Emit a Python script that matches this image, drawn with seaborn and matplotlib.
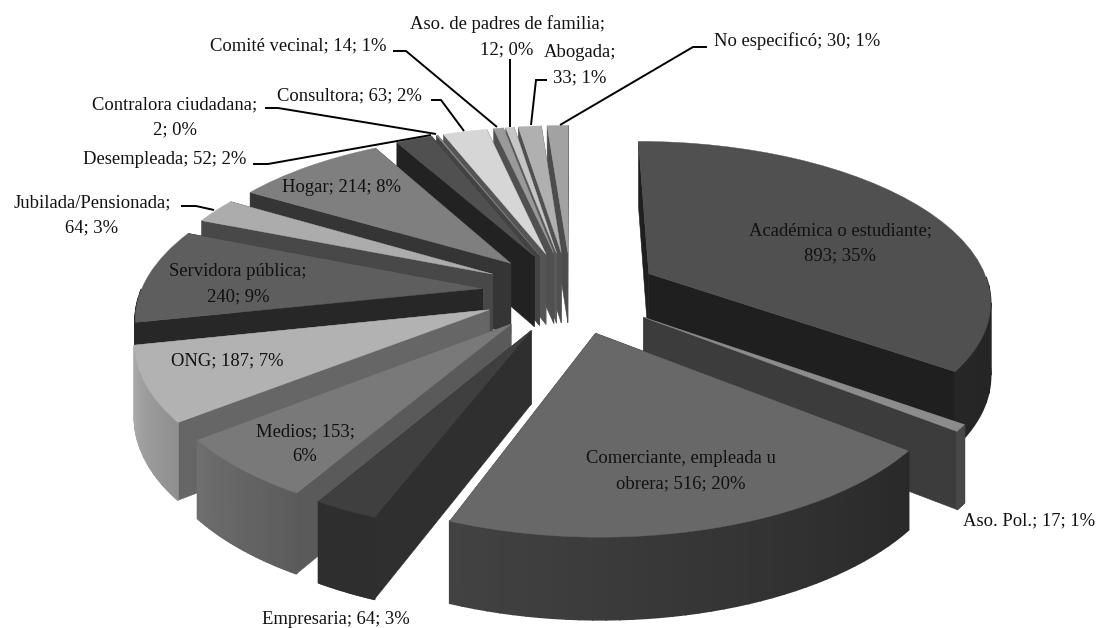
import numpy as np
import matplotlib
matplotlib.use("Agg")
import matplotlib.pyplot as plt
import seaborn as sns
from matplotlib.colors import to_rgb
from matplotlib.path import Path
from matplotlib.transforms import Transform

sns.set_theme(style="white")
plt.rcParams['font.family'] = ['Liberation Serif', 'DejaVu Serif']

categories = ["Académica o estudiante", "Aso. Pol.", "Comerciante, empleada u obrera", "Empresaria",
              "Medios", "ONG", "Servidora pública", "Jubilada/Pensionada", "Hogar", "Desempleada",
              "Contralora ciudadana", "Consultora", "Comité vecinal", "Aso. de padres de familia",
              "Abogada", "No especificó"]
values = [893, 17, 516, 64, 153, 187, 240, 64, 214, 52, 2, 63, 14, 12, 33, 30]
percents = [35, 1, 20, 3, 6, 7, 9, 3, 8, 2, 0, 2, 1, 0, 1, 1]
top_colors = ["#505050", "#8c8c8c", "#686868", "#3f3f3f", "#797979", "#b2b2b2", "#5e5e5e", "#acacac",
              "#7f7f7f", "#505050", "#8a8a8a", "#d6d6d6", "#9a9a9a", "#c6c6c6", "#b0b0b0", "#a2a2a2"]
wall_colors = ["#1f1f1f", "#3c3c3c", "#2c2c2c", "#2f2f2f", "#5a5a5a", "#666666", "#272727", "#484848",
               "#353535", "#222222", "#444444", "#555555", "#505050", "#5a5a5a", "#505050", "#4c4c4c"]
rim_start = ["#1e1e1e", "#474747", "#292929", "#2e2e2e", "#5c5c5c", "#8f8f8f", "#272727", "#484848",
             "#353535", "#222222", "#444444", "#555555", "#505050", "#5a5a5a", "#505050", "#4c4c4c"]
rim_end = ["#262626", "#474747", "#424242", "#2e2e2e", "#6e6e6e", "#aaaaaa", "#272727", "#484848",
           "#353535", "#222222", "#444444", "#555555", "#505050", "#5a5a5a", "#505050", "#4c4c4c"]

label_pos = [(840, 243), (1029, 521), (681, 471), (336, 619), (305, 444), (227, 361), (238, 284), (92, 215),
             (342, 188), (165, 160), (175, 117), (349, 96), (298, 46), (507, 37), (580, 65), (797, 41)]
label_lines = [["Académica o estudiante;", "893; 35%"], ["Aso. Pol.; 17; 1%"],
               ["Comerciante, empleada u", "obrera; 516; 20%"], ["Empresaria; 64; 3%"],
               ["Medios; 153;", "6%"], ["ONG; 187; 7%"], ["Servidora pública;", "240; 9%"],
               ["Jubilada/Pensionada;", "64; 3%"], ["Hogar; 214; 8%"], ["Desempleada; 52; 2%"],
               ["Contralora ciudadana;", "2; 0%"], ["Consultora; 63; 2%"], ["Comité vecinal; 14; 1%"],
               ["Aso. de padres de familia;", "12; 0%"], ["Abogada;", "33; 1%"], ["No especificó; 30; 1%"]]
leaders = [[(253, 164), (268, 164), (431, 135)], [(265, 108), (278, 108), (436, 134)],
           [(431, 100), (441, 100), (464, 131)], [(393, 51), (406, 51), (497, 127)],
           [(510, 59), (510, 127)], [(547, 80), (536, 80), (531, 125)],
           [(707, 47), (693, 47), (560, 125)], [(181, 206), (196, 206), (214, 210)]]

CX, CY, SX, SY, K = 571.0, 292.0, 342.0, 158.0, 0.155
EXPLODE, DEPTH = 0.26, 72.0
LINE_PITCH = 25


def project(xy, d):
    xy = np.asarray(xy, float)
    s = 1.0 / (1.0 + K * xy[:, 1])
    return np.column_stack([CX + SX * xy[:, 0] * s, CY - SY * xy[:, 1] * s + d * s ** 0.64])


class Persp(Transform):
    input_dims = output_dims = 2
    is_separable = False
    has_inverse = False

    def transform_non_affine(self, xy):
        return project(xy, 0.0)

    def transform_path_non_affine(self, path):
        return Path(project(path.vertices, 0.0), path.codes)


fig = plt.figure(figsize=(10.99, 6.28), dpi=100, facecolor="white")
ax = fig.add_axes([0, 0, 1, 1])

n = len(values)
frac = np.cumsum([0] + values) / sum(values)
mids = (frac[:-1] + frac[1:]) / 2 * 2 * np.pi
rank = np.argsort(np.argsort(-np.cos(mids)))

tops, _ = ax.pie(values, explode=[EXPLODE] * n, colors=sns.color_palette(top_colors), startangle=90,
                 counterclock=False, labeldistance=None, radius=1)
tr = Persp() + ax.transData

for i, w in enumerate(tops):
    base = 10 + rank[i] * 1000
    w.set_transform(tr)
    w.set_edgecolor(top_colors[i])
    w.set_linewidth(0.3)
    w.set_clip_on(False)
    w.set_zorder(base + 900)
    cx0, cy0 = w.center
    for theta in (w.theta1, w.theta2):
        a = np.radians(theta)
        pts = np.array([[cx0, cy0], [cx0 + np.cos(a), cy0 + np.sin(a)]])
        poly = np.vstack([project(pts, 0), project(pts, DEPTH)[::-1]])
        ax.fill(poly[:, 0], poly[:, 1], color=wall_colors[i], lw=0.4, zorder=base + 100, clip_on=False)
    ts = np.linspace(w.theta2, w.theta1, 41)
    c0, c1 = np.array(to_rgb(rim_start[i])), np.array(to_rgb(rim_end[i]))
    for k in range(40):
        arc = np.radians(np.linspace(ts[k], ts[k + 1], 4))
        if np.sin(arc.mean()) > 0.0:
            continue
        pts = np.column_stack([cx0 + np.cos(arc), cy0 + np.sin(arc)])
        poly = np.vstack([project(pts, 0), project(pts, DEPTH)[::-1]])
        col = c0 * (1 - k / 39) + c1 * (k / 39)
        ax.fill(poly[:, 0], poly[:, 1], color=col, lw=1.2, zorder=base + 500 + k, clip_on=False)

ax.set_aspect("auto")
ax.set_xlim(0, 1099)
ax.set_ylim(628, 0)
ax.axis("off")

for line in leaders:
    xs, ys = zip(*line)
    ax.plot(xs, ys, color="black", lw=1.4, zorder=50000, solid_capstyle="butt", solid_joinstyle="miter")

for lines, (x, y) in zip(label_lines, label_pos):
    y0 = y - LINE_PITCH * (len(lines) - 1) / 2
    for m, txt in enumerate(lines):
        ax.text(x, y0 + m * LINE_PITCH, txt, ha="center", va="center", fontsize=13.4, color="#111111",
                zorder=60000)

fig.savefig("out.png", dpi=100, facecolor="white")
